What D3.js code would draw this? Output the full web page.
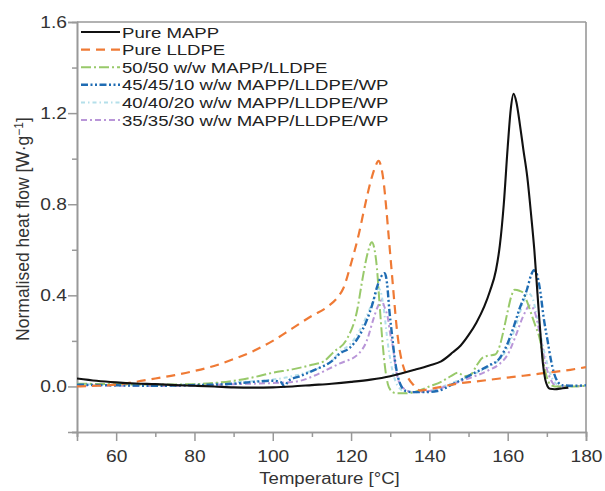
<!DOCTYPE html>
<html>
<head>
<meta charset="utf-8">
<script src="https://cdn.jsdelivr.net/npm/d3@7/dist/d3.min.js"></script>
<style>
  html, body { margin: 0; padding: 0; background: #fff; }
  svg { display: block; }
  text { font-family: "Liberation Sans", Arial, Helvetica, sans-serif; }
</style>
</head>
<body>
<svg id="chart" width="605" height="491"></svg>
<script>
// ---------------- data ----------------
const seriesNames = [
  "Pure MAPP",
  "Pure LLDPE",
  "50/50 w/w MAPP/LLDPE",
  "45/45/10 w/w MAPP/LLDPE/WP",
  "40/40/20 w/w MAPP/LLDPE/WP",
  "35/35/30 w/w MAPP/LLDPE/WP"
];

const pureMAPP = [[50,0.035],[55,0.025],[60,0.018],[65,0.013],[70,0.01],[75,0.006],[80,0.003],[85,0.0],[90,-0.004],[95,-0.005],[100,-0.004],[105,0.0],[110,0.006],[115,0.012],[120,0.02],[125,0.03],[130,0.045],[133,0.058],[136,0.072],[140,0.092],[143,0.11],[146,0.15],[148,0.18],[150,0.225],[152,0.28],[154,0.35],[155.5,0.42],[157,0.51],[158,0.62],[159,0.8],[160,1.05],[160.8,1.22],[161.5,1.285],[162.2,1.25],[163.2,1.14],[164,1.04],[165,0.92],[166,0.75],[166.8,0.6],[167.8,0.36],[168.5,0.2],[169,0.1],[169.6,0.03],[170.2,0.0],[170.8,-0.01],[172,-0.012],[174,-0.008],[175.5,-0.005]];

const pureLLDPE = [[50,0.0],[55,0.003],[60,0.008],[65,0.02],[70,0.035],[75,0.05],[80,0.068],[85,0.09],[90,0.12],[95,0.155],[100,0.2],[105,0.255],[110,0.31],[114,0.35],[116.5,0.39],[118,0.43],[120,0.54],[122,0.67],[123.5,0.79],[125,0.9],[126.3,0.97],[127,0.99],[127.6,0.97],[128.3,0.9],[129,0.78],[129.6,0.66],[130.3,0.52],[131,0.38],[131.7,0.25],[132.5,0.15],[133.3,0.09],[134.5,0.04],[136,0.005],[137.6,-0.018],[139,-0.015],[142,-0.005],[147,0.012],[152,0.022],[158,0.035],[164,0.047],[170,0.06],[176,0.073],[180,0.085]];

const blend5050 = [[50,0.012],[60,0.01],[70,0.008],[80,0.01],[85,0.015],[90,0.025],[95,0.04],[100,0.06],[105,0.075],[110,0.095],[113,0.11],[115.5,0.15],[119,0.21],[121.5,0.33],[123,0.48],[124.3,0.59],[125.3,0.633],[126,0.6],[126.6,0.52],[127.2,0.38],[128,0.2],[128.7,0.08],[129.4,0.01],[130.3,-0.02],[131.5,-0.03],[134,-0.03],[137,-0.02],[140,0.0],[143,0.02],[145.5,0.045],[147.3,0.06],[149,0.045],[150.5,0.05],[152,0.09],[153.5,0.125],[155,0.135],[156.8,0.14],[158,0.18],[159,0.25],[160,0.33],[161,0.4],[161.8,0.425],[163,0.42],[164,0.41],[165,0.37],[166,0.32],[167,0.27],[168.3,0.2],[169.2,0.1],[170,0.04],[170.8,0.01],[172,0.0],[175,0.0],[180,0.002]];

const blend454510 = [[50,0.008],[60,0.005],[70,0.003],[80,0.006],[90,0.012],[95,0.02],[100,0.025],[102,0.02],[103,0.0],[104,0.025],[107,0.045],[111,0.075],[115,0.11],[117.2,0.145],[119.7,0.17],[122,0.22],[124,0.29],[125.6,0.37],[126.6,0.435],[127.6,0.48],[128.6,0.497],[129.2,0.45],[129.8,0.33],[130.5,0.22],[131.2,0.115],[132,0.04],[132.7,0.005],[134,-0.02],[136,-0.025],[139,-0.025],[142,-0.02],[146,0.01],[151,0.055],[155,0.09],[158,0.125],[160,0.19],[161.5,0.26],[163,0.34],[165,0.43],[166,0.49],[166.7,0.51],[167.5,0.49],[168.3,0.42],[169.2,0.3],[170.2,0.2],[171,0.12],[171.8,0.06],[172.8,0.02],[174,0.005],[177,0.003],[180,0.005]];

const blend404020 = [[50,0.01],[60,0.008],[70,0.006],[80,0.01],[90,0.018],[100,0.03],[105,0.045],[110,0.07],[115,0.11],[117,0.15],[120,0.19],[122,0.24],[124.5,0.33],[126.2,0.4],[127.1,0.43],[127.8,0.4],[128.5,0.32],[129.3,0.2],[130.2,0.1],[131.2,0.03],[132.5,-0.01],[134,-0.025],[137,-0.025],[141,-0.015],[145,0.01],[150,0.045],[155,0.085],[158,0.12],[160,0.17],[162,0.26],[163.8,0.36],[165.2,0.41],[166.3,0.39],[167.3,0.32],[168.5,0.22],[169.8,0.12],[171,0.05],[172.5,0.01],[174,0.0],[180,0.003]];

const blend353530 = [[50,0.005],[60,0.003],[70,0.002],[80,0.004],[90,0.01],[100,0.015],[105,0.02],[107,0.025],[111,0.05],[114,0.075],[117,0.1],[122,0.145],[124,0.2],[125.6,0.29],[126.8,0.35],[127.8,0.378],[128.5,0.35],[129.4,0.3],[130,0.23],[130.7,0.17],[131.5,0.07],[132.5,0.01],[134,-0.015],[136,-0.025],[140,-0.02],[145,0.005],[150,0.035],[155,0.07],[158,0.1],[160,0.14],[162,0.22],[164,0.31],[165.7,0.355],[166.6,0.34],[167.5,0.29],[168.5,0.2],[169.5,0.11],[170.5,0.05],[171.5,0.015],[173,0.0],[180,0.002]];

const xMajorTicks = [60, 80, 100, 120, 140, 160, 180];
const xMinorTicks = [50, 70, 90, 110, 130, 150, 170];
const yMajorTicks = [0.0, 0.4, 0.8, 1.2, 1.6];
const yMinorTicks = [-0.2, 0.2, 0.6, 1.0, 1.4];

// ---------------- styles ----------------
const seriesData = [pureMAPP, pureLLDPE, blend5050, blend454510, blend404020, blend353530];
const colors = ["#111111", "#ef7a35", "#98c96a", "#1f6cb3", "#b4dfea", "#b996d8"];
const dashes = ["none", "9,6", "10,3,2,3", "7,2.5,2,2.5,2,2.5", "4,3,1.5,3", "6,3,2,3"];
const widths = [2.1, 2.2, 2.0, 2.4, 2.0, 2.0];

const svg = d3.select("#chart");
const m = { left: 77, right: 586, top: 22, bottom: 432 };
const x = d3.scaleLinear().domain([50, 180]).range([m.left, m.right]);
const y = d3.scaleLinear().domain([-0.2, 1.6]).range([m.bottom, m.top]);
const axisColor = "#999999";
const textColor = "#333333";

// clip
svg.append("clipPath").attr("id", "clip").append("rect")
  .attr("x", m.left).attr("y", m.top).attr("width", m.right - m.left).attr("height", m.bottom - m.top);

// frame (top and right)
svg.append("line").attr("x1", m.left).attr("x2", m.right).attr("y1", m.top).attr("y2", m.top)
  .attr("stroke", axisColor).attr("stroke-width", 1.6);
svg.append("line").attr("x1", m.right).attr("x2", m.right).attr("y1", m.top).attr("y2", m.bottom)
  .attr("stroke", axisColor).attr("stroke-width", 1.6);

// axes
const xAxis = svg.append("g").attr("transform", `translate(0,${m.bottom})`)
  .call(d3.axisBottom(x).tickValues(xMajorTicks).tickFormat(d3.format("d")).tickSize(9).tickPadding(10));
const xAxisMinor = svg.append("g").attr("transform", `translate(0,${m.bottom})`)
  .call(d3.axisBottom(x).tickValues(xMinorTicks).tickFormat("").tickSize(5));
const yAxis = svg.append("g").attr("transform", `translate(${m.left},0)`)
  .call(d3.axisLeft(y).tickValues(yMajorTicks).tickFormat(d3.format(".1f")).tickSize(9).tickPadding(10));
const yAxisMinor = svg.append("g").attr("transform", `translate(${m.left},0)`)
  .call(d3.axisLeft(y).tickValues(yMinorTicks).tickFormat("").tickSize(5));

[xAxis, xAxisMinor, yAxis, yAxisMinor].forEach(g => {
  g.select(".domain").attr("stroke", axisColor).attr("stroke-width", 1.6);
  g.selectAll(".tick line").attr("stroke", axisColor).attr("stroke-width", 1.5);
  g.selectAll(".tick text").attr("fill", textColor).style("font-size", "16px")
    .style("font-family", '"Liberation Sans", Arial, sans-serif');
});
xAxis.selectAll(".tick text").attr("transform", "scale(1.2,1)");
yAxis.selectAll(".tick text").attr("x", 0).attr("transform", "translate(-10,0) scale(1.2,1)");

// lines
const line = d3.line().x(d => x(d[0])).y(d => y(d[1])).curve(d3.curveMonotoneX);
const plot = svg.append("g").attr("clip-path", "url(#clip)");
const order = [4, 5, 2, 3, 1, 0];
order.forEach(i => {
  plot.append("path").datum(seriesData[i])
    .attr("d", line)
    .attr("fill", "none")
    .attr("stroke", colors[i])
    .attr("stroke-width", widths[i])
    .attr("stroke-dasharray", dashes[i])
    .attr("stroke-linejoin", "round");
});

// legend
const legendY0 = 32, legendDy = 17.6;
const leg = svg.append("g");
seriesNames.forEach((name, i) => {
  const yy = legendY0 + i * legendDy;
  leg.append("line").attr("x1", 81).attr("x2", 120).attr("y1", yy).attr("y2", yy)
    .attr("stroke", colors[i]).attr("stroke-width", widths[i])
    .attr("stroke-dasharray", dashes[i]);
  leg.append("text").attr("transform", `translate(122,${yy + 5.5}) scale(1.24,1)`)
    .attr("fill", "#222").style("font-size", "15px").text(name);
});

// x title
svg.append("text")
  .attr("transform", `translate(${(m.left + m.right) / 2 - 2},484) scale(1.16,1)`)
  .attr("text-anchor", "middle").attr("fill", textColor).style("font-size", "16px")
  .text("Temperature [°C]");

// y title
const yt = svg.append("text")
  .attr("transform", `translate(29,229) rotate(-90)`)
  .attr("text-anchor", "middle").attr("fill", textColor).style("font-size", "17.5px");
yt.append("tspan").text("Normalised heat flow [W·g");
yt.append("tspan").attr("dy", -6.5).style("font-size", "12px").text("−1");
yt.append("tspan").attr("dy", 6.5).text("]");
</script>
</body>
</html>
